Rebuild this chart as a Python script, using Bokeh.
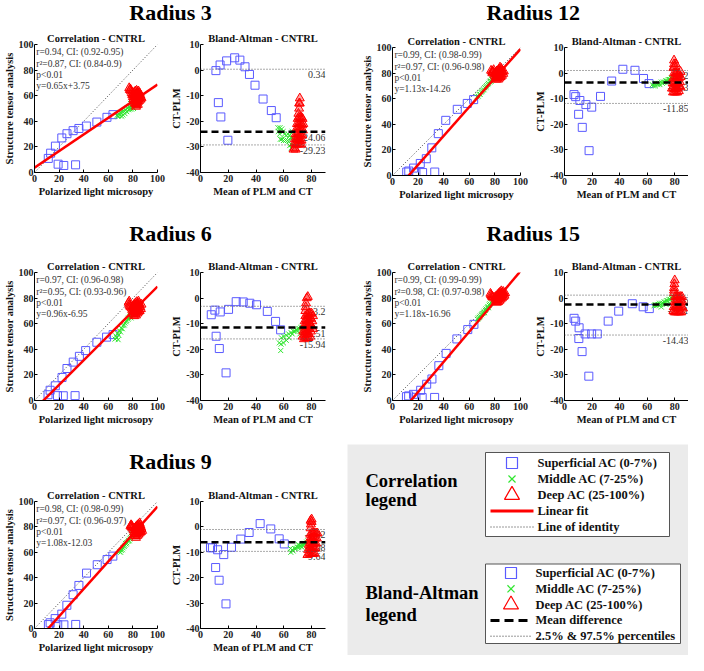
from bokeh.plotting import figure
from bokeh.layouts import column, row
from bokeh.models import Range1d, Label, Span, FixedTicker
from bokeh.core.properties import value
from bokeh.embed import file_html
from bokeh.resources import INLINE

FONT = "Liberation Serif"
BLUE = "#5a5aff"
GREEN = "#2fe62f"
RED = "#ff0000"

corr_ticks = [0, 20, 40, 60, 80, 100]
ba_xticks = [0, 20, 40, 60, 80]
ba_yticks = [-40, -30, -20, -10, 0, 10]

# ---------------- Radius 3 ----------------
r3_sup_plm = [11.2, 13.1, 17.0, 22.2, 26.4, 31.4, 36.1, 42.2, 50.7, 58.9, 63.8, 19.2, 23.8, 33.4]
r3_sup_ct = [11.0, 15.1, 20.6, 27.0, 30.3, 32.7, 34.4, 36.3, 39.4, 43.1, 45.2, 6.5, 5.5, 6.0]
r3_mid_plm = [67.0, 68.0, 68.5, 69.5, 70.0, 71.0, 71.5, 72.0, 73.0, 73.5, 74.5, 75.0, 75.5, 76.5, 77.0, 77.5, 78.5, 79.0, 79.5, 80.0, 80.5, 78.0]
r3_mid_ct = [44.5, 44.0, 46.0, 44.5, 47.0, 44.0, 47.5, 45.0, 48.0, 46.0, 49.0, 47.5, 50.5, 49.0, 51.5, 49.5, 52.0, 49.5, 53.0, 51.0, 50.0, 54.0]
r3_deep_plm = [77.0, 78.0, 78.5, 79.0, 77.5,
               79.5, 80.0, 80.5, 81.0, 81.5, 82.0,
               80.0, 81.0, 81.5, 82.0, 82.5, 83.0,
               81.0, 82.0, 82.5, 83.0, 83.5, 84.0,
               82.0, 83.0, 83.5, 84.0, 84.5, 85.0,
               83.0, 84.0, 84.5, 85.0, 85.5, 86.0,
               84.5, 85.5, 86.0, 86.5, 87.0, 82.5, 83.0, 84.0]
r3_deep_ct = [66.0, 65.0, 63.5, 62.0, 64.5,
              60.5, 59.0, 57.5, 56.0, 54.5, 53.5,
              61.5, 60.0, 58.5, 57.0, 55.5, 54.0,
              62.5, 61.0, 59.5, 58.0, 56.5, 55.0,
              63.5, 62.0, 60.5, 59.0, 57.5, 56.0,
              64.0, 62.5, 61.0, 59.5, 58.0, 57.0,
              63.5, 62.0, 60.5, 59.0, 58.0, 51.5, 52.5, 53.0]
r3_text = ["r=0.94, CI: (0.92-0.95)", "r\u00b2=0.87, CI: (0.84-0.9)", "p<0.01", "y=0.65x+3.75"]
r3_fit = (0.65, 3.75)
r3_ba = (-24.06, 0.34, -29.23)   # mean, upper, lower

# ---------------- Radius 6 ----------------
r6_sup_plm = [11.0, 12.7, 16.9, 22.4, 26.4, 31.5, 36.5, 41.6, 50.7, 58.6, 63.9, 18.7, 23.4, 33.0]
r6_sup_ct = [4.5, 8.0, 11.5, 18.0, 25.0, 30.0, 34.5, 39.0, 45.5, 49.5, 51.5, 3.8, 3.7, 3.8]
r6_mid_plm = [65.5, 66.0, 67.0, 67.5, 68.5, 69.0, 70.0, 70.5, 71.5, 72.0, 73.0, 73.5, 74.5, 75.0, 76.0, 76.5, 77.5, 78.0, 78.5, 79.0, 80.0, 68.0]
r6_mid_ct = [48.0, 50.5, 49.0, 52.5, 51.0, 54.5, 53.5, 56.5, 56.0, 58.5, 59.0, 60.5, 61.5, 62.5, 63.5, 64.5, 65.5, 66.5, 64.5, 67.5, 68.0, 47.5]
r6_deep_plm = [76.5, 77.0, 77.5, 78.0, 77.0,
               79.0, 79.5, 80.0, 80.5, 81.0,
               80.0, 80.5, 81.0, 81.5, 82.0, 82.5,
               81.0, 81.5, 82.0, 82.5, 83.0, 83.5,
               82.0, 82.5, 83.0, 83.5, 84.0, 84.5,
               83.0, 83.5, 84.0, 84.5, 85.0, 85.5,
               84.5, 85.0, 85.5, 86.0, 86.5, 87.0]
r6_deep_ct = [76.5, 75.0, 74.0, 73.0, 77.5,
              72.0, 70.5, 69.0, 67.5, 66.0,
              73.5, 72.0, 70.5, 69.0, 67.5, 66.5,
              75.0, 73.5, 72.0, 70.5, 69.0, 68.0,
              76.0, 74.5, 73.0, 71.5, 70.0, 69.0,
              77.0, 75.5, 74.0, 72.5, 71.0, 70.0,
              77.5, 76.0, 74.5, 73.0, 71.5, 75.0]
r6_text = ["r=0.97, CI: (0.96-0.98)", "r\u00b2=0.95, CI: (0.93-0.96)", "p<0.01", "y=0.96x-6.95"]
r6_fit = (0.96, -6.95)
r6_ba = (-11.51, -3.2, -15.94)

# ---------------- Radius 9 ----------------
r9_sup_plm = [11.3, 12.7, 16.8, 18.9, 23.9, 22.2, 26.3, 31.4, 36.1, 42.3, 51.0, 59.0, 63.7, 33.5]
r9_sup_ct = [3.1, 4.5, 7.8, 2.9, 2.9, 11.3, 18.3, 26.6, 33.9, 43.6, 50.2, 54.3, 57.0, 3.2]
r9_mid_plm = [70.0, 70.5, 71.5, 72.0, 73.0, 73.5, 74.5, 75.0, 76.0, 76.5, 77.5, 78.0, 79.0, 79.5, 77.0, 74.0, 69.0, 80.0]
r9_mid_ct = [60.0, 61.5, 62.0, 63.5, 64.5, 65.5, 66.5, 67.5, 68.5, 69.5, 70.5, 71.5, 72.5, 73.5, 69.0, 67.0, 60.5, 74.5]
r9_deep_plm = [78.5, 79.0, 79.0, 79.5, 78.0,
               80.5, 81.0, 81.5, 82.0, 82.5,
               81.5, 82.0, 82.5, 83.0, 83.5,
               82.5, 83.0, 83.5, 84.0, 84.5,
               83.5, 84.0, 84.5, 85.0, 85.5,
               84.5, 85.0, 85.5, 86.0, 86.5,
               85.5, 86.0, 86.5, 87.0, 87.5]
r9_deep_ct = [81.5, 81.0, 80.0, 79.0, 80.5,
              77.5, 76.0, 74.5, 73.0, 71.5,
              79.0, 77.5, 76.0, 74.5, 73.0,
              80.0, 78.5, 77.0, 75.5, 74.0,
              81.0, 79.5, 78.0, 76.5, 75.0,
              82.0, 80.5, 79.0, 77.5, 76.0,
              83.0, 81.5, 80.0, 78.5, 77.0]
r9_text = ["r=0.98, CI: (0.98-0.99)", "r\u00b2=0.97, CI: (0.96-0.97)", "p<0.01", "y=1.08x-12.03"]
r9_fit = (1.08, -12.03)
r9_ba = (-6.08, -1.02, -9.64)

# ---------------- Radius 12 ----------------
r12_sup_plm = [11.1, 12.7, 16.5, 18.3, 23.5, 21.7, 26.4, 33.0, 30.7, 35.8, 41.6, 50.6, 58.4, 63.4]
r12_sup_ct = [2.7, 3.5, 5.8, 2.2, 2.3, 9.4, 13.1, 2.7, 21.6, 32.7, 43.1, 51.7, 56.3, 59.3]
r12_mid_plm = [66.0, 67.0, 67.5, 68.5, 69.0, 70.0, 70.5, 71.5, 72.0, 73.0, 73.5, 74.5, 75.0, 76.0, 76.5, 77.5, 78.0, 78.5, 79.0, 77.0]
r12_mid_ct = [61.5, 62.0, 63.5, 63.5, 65.0, 65.5, 66.5, 67.0, 68.5, 69.0, 70.0, 71.0, 72.0, 73.0, 74.0, 75.0, 75.5, 76.5, 77.0, 73.5]
r12_deep_plm = [77.0, 77.75, 78.5, 78.0, 79.0,
                79.5, 80.0, 80.5, 81.0,
                80.5, 81.0, 81.5, 82.0, 82.5,
                81.5, 82.0, 82.5, 83.0, 83.5,
                82.5, 83.0, 83.5, 84.0, 84.5,
                83.5, 84.0, 84.5, 85.0, 85.5,
                85.0, 85.5, 86.0, 86.5, 87.0, 84.0]
r12_deep_ct = [82.0, 81.25, 81.0, 80.0, 82.5,
               79.5, 78.0, 76.5, 75.0,
               80.5, 79.0, 77.5, 76.0, 75.0,
               81.5, 80.0, 78.5, 77.0, 76.0,
               82.0, 81.0, 79.5, 78.0, 77.0,
               83.0, 82.0, 80.5, 79.0, 78.0,
               83.5, 82.0, 81.0, 79.5, 81.5, 84.5]
r12_text = ["r=0.99, CI: (0.98-0.99)", "r\u00b2=0.97, CI: (0.96-0.98)", "p<0.01", "y=1.13x-14.26"]
r12_fit = (1.13, -14.26)
r12_ba = (-3.63, 1.02, -11.85)

# ---------------- Radius 15 ----------------
r15_sup_plm = [10.9, 12.6, 16.4, 18.3, 23.2, 22.0, 26.7, 30.8, 32.9, 36.2, 41.9, 50.3, 58.8, 63.6]
r15_sup_ct = [3.0, 3.6, 4.8, 2.5, 2.3, 8.0, 12.7, 16.8, 2.4, 27.2, 36.8, 48.1, 55.4, 59.5]
r15_mid_plm = [66.5, 67.0, 68.0, 68.5, 69.5, 70.0, 71.0, 71.5, 72.5, 73.0, 74.0, 74.5, 75.5, 76.0, 77.0, 77.5, 78.5, 79.0, 75.0, 72.0]
r15_mid_ct = [63.5, 64.5, 65.0, 66.0, 67.0, 68.0, 68.5, 69.5, 70.5, 71.5, 72.5, 73.5, 74.5, 75.5, 76.5, 77.5, 78.5, 79.5, 72.5, 68.5]
r15_deep_plm = [76.5, 77.0, 77.5, 78.0, 78.5,
                80.0, 80.5, 81.0, 81.5,
                81.0, 81.5, 82.0, 82.5,
                82.0, 82.5, 83.0, 83.5,
                83.0, 83.5, 84.0, 84.5,
                84.0, 84.5, 85.0, 85.5,
                85.0, 85.5, 86.0, 86.5,
                86.5, 87.0, 87.5, 88.0]
r15_deep_ct = [83.5, 82.5, 81.5, 81.0, 80.5,
               80.5, 79.0, 77.5, 76.5,
               81.5, 80.0, 78.5, 77.0,
               82.5, 81.0, 79.5, 78.0,
               83.5, 82.0, 80.5, 79.0,
               84.5, 83.0, 81.5, 80.0,
               85.5, 84.0, 82.5, 81.0,
               85.0, 83.5, 82.0, 84.0]
r15_text = ["r=0.99, CI: (0.99-0.99)", "r\u00b2=0.98, CI: (0.97-0.98)", "p<0.01", "y=1.18x-16.96"]
r15_fit = (1.18, -16.96)
r15_ba = (-2.51, 1.16, -14.43)

corr_legend_labels = ["Superficial AC (0-7%)", "Middle AC (7-25%)", "Deep AC (25-100%)", "Linear fit", "Line of identity"]
ba_legend_labels = ["Superficial AC (0-7%)", "Middle AC (7-25%)", "Deep AC (25-100%)", "Mean difference", "2.5% & 97.5% percentiles"]

RADII = {
    "3": dict(sup=(r3_sup_plm, r3_sup_ct), mid=(r3_mid_plm, r3_mid_ct), deep=(r3_deep_plm, r3_deep_ct), text=r3_text, fit=r3_fit, ba=r3_ba),
    "6": dict(sup=(r6_sup_plm, r6_sup_ct), mid=(r6_mid_plm, r6_mid_ct), deep=(r6_deep_plm, r6_deep_ct), text=r6_text, fit=r6_fit, ba=r6_ba),
    "9": dict(sup=(r9_sup_plm, r9_sup_ct), mid=(r9_mid_plm, r9_mid_ct), deep=(r9_deep_plm, r9_deep_ct), text=r9_text, fit=r9_fit, ba=r9_ba),
    "12": dict(sup=(r12_sup_plm, r12_sup_ct), mid=(r12_mid_plm, r12_mid_ct), deep=(r12_deep_plm, r12_deep_ct), text=r12_text, fit=r12_fit, ba=r12_ba),
    "15": dict(sup=(r15_sup_plm, r15_sup_ct), mid=(r15_mid_plm, r15_mid_ct), deep=(r15_deep_plm, r15_deep_ct), text=r15_text, fit=r15_fit, ba=r15_ba),
}

# ------------------------------------------------------------------
TEXT_Y = [93.8, 84.8, 75.8, 67.2]


def style_axes(p, xticks, yticks):
    for ax in (p.xaxis[0], p.yaxis[0]):
        ax.axis_line_color = "black"
        ax.axis_line_width = 1
        ax.major_tick_in = 3
        ax.major_tick_out = 0
        ax.major_tick_line_color = "black"
        ax.minor_tick_line_color = None
        ax.major_label_text_font = FONT
        ax.major_label_text_font_style = "bold"
        ax.major_label_text_font_size = "10px"
        ax.major_label_text_color = "#222222"
        ax.axis_label_text_font = FONT
        ax.axis_label_text_font_style = "bold"
        ax.axis_label_text_font_size = "10.5px"
        ax.axis_label_text_color = "#111111"
        ax.axis_label_standoff = 1
    p.xaxis.major_label_standoff = 2
    p.yaxis.major_label_standoff = 1
    p.xaxis.ticker = FixedTicker(ticks=xticks)
    p.yaxis.ticker = FixedTicker(ticks=yticks)
    p.xaxis.major_label_overrides = {t: str(t) for t in xticks}
    p.yaxis.major_label_overrides = {t: str(t) for t in yticks}
    p.grid.visible = False


def set_title(p, text):
    p.title.text = text
    p.title.align = "center"
    p.title.text_font = FONT
    p.title.text_font_style = "bold"
    p.title.text_font_size = "10.5px"
    p.title.text_color = "#111111"
    p.title.standoff = 2
    p.title.offset = 0


def markers(p, d, tx):
    for key, marker, color, size, falpha in (("sup", "square", BLUE, 8, 0.0),
                                             ("mid", "x", GREEN, 7, 0.0),
                                             ("deep", "triangle", RED, 9, 0.35)):
        a, b = d[key]
        xs, ys = tx(a, b)
        p.scatter(xs, ys, marker=marker, size=size, fill_color=color, fill_alpha=falpha,
                  line_color=color, line_width=1)


def make_corr(d, width, mbl, mbr, height, mbb, frame_h):
    p = figure(width=width, height=height, x_range=Range1d(0, 100), y_range=Range1d(0, 100),
               toolbar_location=None, output_backend="svg", min_border_left=mbl, min_border_right=mbr,
               min_border_top=17, min_border_bottom=mbb, outline_line_color=None)
    set_title(p, "Correlation - CNTRL")
    style_axes(p, corr_ticks, corr_ticks)
    p.xaxis.axis_label = "Polarized light microsopy"
    p.yaxis.axis_label = "Structure tensor analysis"
    p.text(x=[1.5] * len(d["text"]), y=TEXT_Y, text=d["text"], text_font=value(FONT),
           text_font_size="9.5px", text_baseline="middle", text_color="#333333")
    p.line([0, 100], [0, 100], line_color="#444444", line_dash="1 2", line_width=1)
    markers(p, d, lambda a, b: (a, b))
    slope, icpt = d["fit"]
    fx = [0, 100]
    fy = [slope * x + icpt for x in fx]
    p.line(fx, fy, line_color=RED, line_width=2.5)
    return p


def make_ba(d, width, mbl, mbr, height, mbb):
    p = figure(width=width, height=height, x_range=Range1d(0, 90), y_range=Range1d(-40, 10),
               toolbar_location=None, output_backend="svg", min_border_left=mbl, min_border_right=mbr,
               min_border_top=17, min_border_bottom=mbb, outline_line_color=None)
    set_title(p, "Bland-Altman - CNTRL")
    style_axes(p, ba_xticks, ba_yticks)
    p.xaxis.axis_label = "Mean of PLM and CT"
    p.yaxis.axis_label = "CT-PLM"
    mean, up, lo = d["ba"]
    p.text(x=[90, 90, 90], y=[up, mean, lo], text=[str(up), str(mean), str(lo)], text_font=value(FONT),
           text_font_size="10px", text_align="right", text_baseline="top", y_offset=2, text_color="#333333")
    markers(p, d, lambda a, b: ([(u + v) / 2 for u, v in zip(a, b)], [v - u for u, v in zip(a, b)]))
    for loc in (up, lo):
        p.add_layout(Span(location=loc, dimension="width", line_color="#555555", line_dash="1 2", line_width=1))
    p.add_layout(Span(location=mean, dimension="width", line_color="black", line_dash="7 4", line_width=2.5))
    return p


def title_fig(text, width, height, cx, cy):
    t = figure(width=width, height=height, x_range=Range1d(0, 1), y_range=Range1d(0, height),
               toolbar_location=None, output_backend="svg", min_border=0,
               x_axis_location=None, y_axis_location=None, outline_line_color=None)
    t.grid.visible = False
    t.add_layout(Label(x=cx, y=height - cy, text=text, text_align="center", text_baseline="middle",
                       text_font=FONT, text_font_style="bold", text_font_size="22px", text_color="black"))
    return t


L_CORR = dict(width=168, mbl=29, mbr=11)
L_BA = dict(width=179, mbl=29, mbr=22)
R_CORR = dict(width=185, mbl=45, mbr=12)
R_BA = dict(width=156, mbl=29, mbr=0)


def block(rad, side, title_h, title_cy, row_h, frame_h):
    d = RADII[rad]
    c = L_CORR if side == "L" else R_CORR
    b = L_BA if side == "L" else R_BA
    mbb = row_h - 17 - frame_h
    cf = make_corr(d, c["width"], c["mbl"], c["mbr"], row_h, mbb, frame_h)
    bf = make_ba(d, b["width"], b["mbl"], b["mbr"], row_h, mbb)
    tw = c["width"] + b["width"]
    cx = 0.49 if side == "L" else 0.545
    tf = title_fig("Radius " + rad, tw, title_h, cx, title_cy)
    return [tf, row(cf, bf)]


left = column(*block("3", "L", 27, 12, 195, 128), *block("6", "L", 33, 11, 195, 128), *block("9", "L", 34, 11, 171, 127))

# legend panel
LW, LH = 341, 211
lf = figure(width=LW, height=LH, x_range=Range1d(0, LW), y_range=Range1d(LH, 0), toolbar_location=None,
            output_backend="svg", min_border=0, x_axis_location=None, y_axis_location=None,
            background_fill_color="#ebebeb", border_fill_color="#ebebeb", outline_line_color=None)
lf.grid.visible = False

heads = ["Correlation", "legend", "Bland-Altman", "legend"]
lf.text(x=[18] * 4, y=[36, 55, 148, 170], text=heads, text_font=value(FONT), text_font_style="bold",
        text_font_size="18.5px", text_baseline="middle", text_color="black")


def legend_box(labels, left, top, right, bottom, row0, pitch, gx0, gx1, tx, kinds):
    lf.quad(left=[left], right=[right], top=[top], bottom=[bottom], fill_color="white",
            line_color="#555555", line_width=1)
    ys = [row0 + i * pitch for i in range(len(labels))]
    gc = (gx0 + gx1) / 2
    lf.scatter([gc], [ys[0]], marker="square", size=11, fill_color=None, line_color=BLUE, line_width=1.2)
    lf.scatter([gc], [ys[1]], marker="x", size=10, line_color=GREEN, line_width=1.2)
    lf.scatter([gc], [ys[2]], marker="triangle", size=15, fill_color=None, line_color=RED, line_width=1.2)
    for (color, dash, lw), y in zip(kinds, ys[3:]):
        lf.line([gx0, gx1], [y, y], line_color=color, line_dash=dash, line_width=lw)
    lf.text(x=[tx] * len(labels), y=ys, text=labels, text_font=value(FONT), text_font_style="bold",
            text_font_size="12.5px", text_baseline="middle", text_color="#111111")


legend_box(corr_legend_labels, 138, 8, 322, 92, 18.5, 16, 143, 186, 190,
           [(RED, "solid", 3), ("#333333", "1 2", 1)])
legend_box(ba_legend_labels, 138, 119.5, 333, 199, 128.5, 15.8, 143, 184, 188,
           [("black", "9 5", 3), ("#333333", "1 2", 1)])

right = column(*block("12", "R", 30, 12, 192, 128), *block("15", "R", 33, 11, 189, 128), lf)

layout = row(left, right)
open("out.html", "w").write(file_html(layout, INLINE))
